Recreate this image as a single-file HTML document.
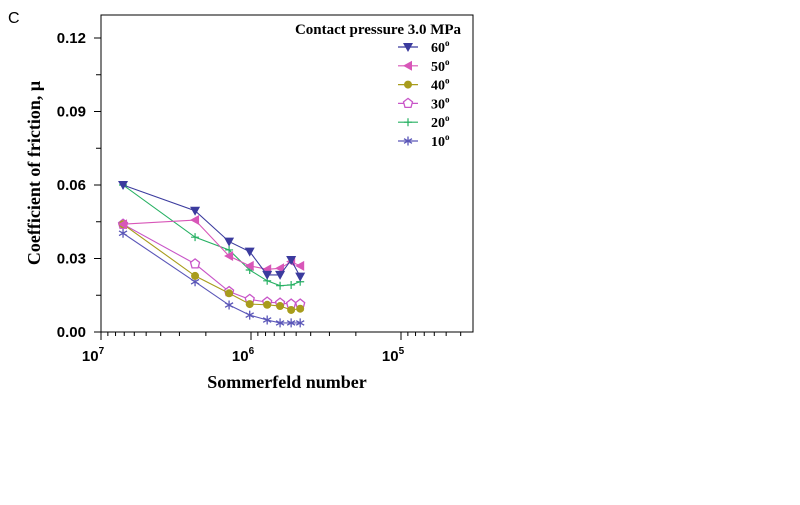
<!DOCTYPE html>
<html><head><meta charset="utf-8"><style>
body{margin:0;background:#fff;width:800px;height:500px;overflow:hidden}
svg text{font-family:"Liberation Sans",sans-serif}
.serif{font-family:"Liberation Serif",serif!important;font-weight:bold}
</style></head><body>
<svg id="chart" width="800" height="500">
<text x="8" y="23" font-size="16">C</text>
<rect x="101" y="15" width="372" height="317" fill="none" stroke="#000" stroke-width="1"/>
<g id="axes"></g><g id="series"></g><g id="legend"></g>
<text class="serif" x="40" y="173" font-size="18" text-anchor="middle" transform="rotate(-90 40 173)">Coefficient of friction, μ</text>
<text class="serif" x="287" y="388" font-size="18" text-anchor="middle">Sommerfeld number</text>
<text class="serif" x="378" y="34" font-size="15" text-anchor="middle">Contact pressure 3.0 MPa</text>
</svg>
<script>
const sommerfeld=[7.13e6,2.36e6,1.40e6,1.02e6,7.8e5,6.4e5,5.4e5,4.7e5];
const labels=["60","50","40","30","20","10"];
const s60=[0.060,0.0495,0.0369,0.0328,0.0233,0.0233,0.0294,0.0226];
const s50=[0.044,0.0457,0.031,0.027,0.0256,0.026,0.0287,0.027];
const s40=[0.044,0.0229,0.0158,0.0114,0.0111,0.0106,0.009,0.0095];
const s30=[0.044,0.0278,0.0165,0.0133,0.0122,0.0118,0.0114,0.0114];
const s20=[0.060,0.0387,0.0335,0.0253,0.0209,0.0189,0.0192,0.0205];
const s10=[0.0403,0.0205,0.011,0.0069,0.0049,0.0037,0.0037,0.0037];
const yTicks=[0,0.03,0.06,0.09,0.12];
const xDecades=[7,6,5];
const NS="http://www.w3.org/2000/svg";
const X=v=>101+(7-Math.log10(v))*150;
const Y=v=>332-v/0.03*73.5;
function mk(t,a,p){const e=document.createElementNS(NS,t);for(const k in a)e.setAttribute(k,a[k]);p.appendChild(e);return e;}
const ax=document.getElementById('axes');
yTicks.forEach(v=>{const l=mk('line',{x1:94,x2:101,y1:Y(v),y2:Y(v),stroke:'#000'},ax);


if(Y(v+0.015)>15){const m=mk('line',{x1:96,x2:101,y1:Y(v+0.015),y2:Y(v+0.015),stroke:'#000'},ax);

}
const t=mk('text',{x:86,y:Y(v)+5,'font-size':15,'font-weight':'bold','text-anchor':'end'},ax);t.textContent=v.toFixed(2);

});
xDecades.forEach(d=>{const x=X(Math.pow(10,d));
const l=mk('line',{x1:x,x2:x,y1:332,y2:340,stroke:'#000'},ax);


const t=mk('text',{x:x-8,y:361,'font-size':15,'font-weight':'bold','text-anchor':'middle'},ax);
t.innerHTML='10<tspan font-size="10" dy="-7">'+d+'</tspan>';


for(let k=2;k<10;k++){const v=k*Math.pow(10,d-1);const xx=X(v);if(xx>473||xx<101)continue;
const m=mk('line',{x1:xx,x2:xx,y1:332,y2:336,stroke:'#000'},ax);

}});
const colors=["#3b3b9e","#d856b8","#a89c1c","#c855c8","#26b062","#5a56b8"];
const data=[s60,s50,s40,s30,s20,s10];
function marker(i,x,y,g){const c=colors[i];let e;
if(i==0)e=mk('path',{d:`M${x-5},${y-4}L${x+5},${y-4}L${x},${y+5}Z`,fill:c},g);
else if(i==1)e=mk('path',{d:`M${x-5},${y}L${x+4},${y-5}L${x+4},${y+5}Z`,fill:c},g);
else if(i==2)e=mk('circle',{cx:x,cy:y,r:4,fill:c},g);
else if(i==3)e=mk('path',{d:`M${x},${y-5}L${x+4.5},${y-1.5}L${x+3},${y+4}L${x-3},${y+4}L${x-4.5},${y-1.5}Z`,fill:'#fff',stroke:c,'stroke-width':1.3},g);
else if(i==4)e=mk('path',{d:`M${x-4},${y}H${x+4}M${x},${y-4}V${y+4}`,stroke:c,'stroke-width':1.2},g);
else e=mk('path',{d:`M${x},${y-4.5}V${y+4.5}M${x-4},${y-2.3}L${x+4},${y+2.3}M${x-4},${y+2.3}L${x+4},${y-2.3}`,stroke:c,'stroke-width':1.3},g);

}
const sg=document.getElementById('series');
data.slice().reverse().forEach((arr,ri)=>{const i=5-ri;
const g=mk('g',{},sg);


mk('polyline',{points:arr.map((v,j)=>X(sommerfeld[j])+','+Y(v)).join(' '),fill:'none',stroke:colors[i],'stroke-width':1.1},g);
arr.forEach((v,j)=>marker(i,X(sommerfeld[j]),Y(v),g));});
const lg=document.getElementById('legend');
labels.forEach((lab,i)=>{const y=47+i*18.8;const g=mk('g',{},lg);


mk('line',{x1:398,x2:418,y1:y,y2:y,stroke:colors[i],'stroke-width':1.2},g);
marker(i,408,y,g);
const t=mk('text',{x:431,y:y+5,'font-size':14,class:'serif'},g);
t.innerHTML=lab+'<tspan font-size="9" dy="-6">o</tspan>';});
</script>
</body></html>
